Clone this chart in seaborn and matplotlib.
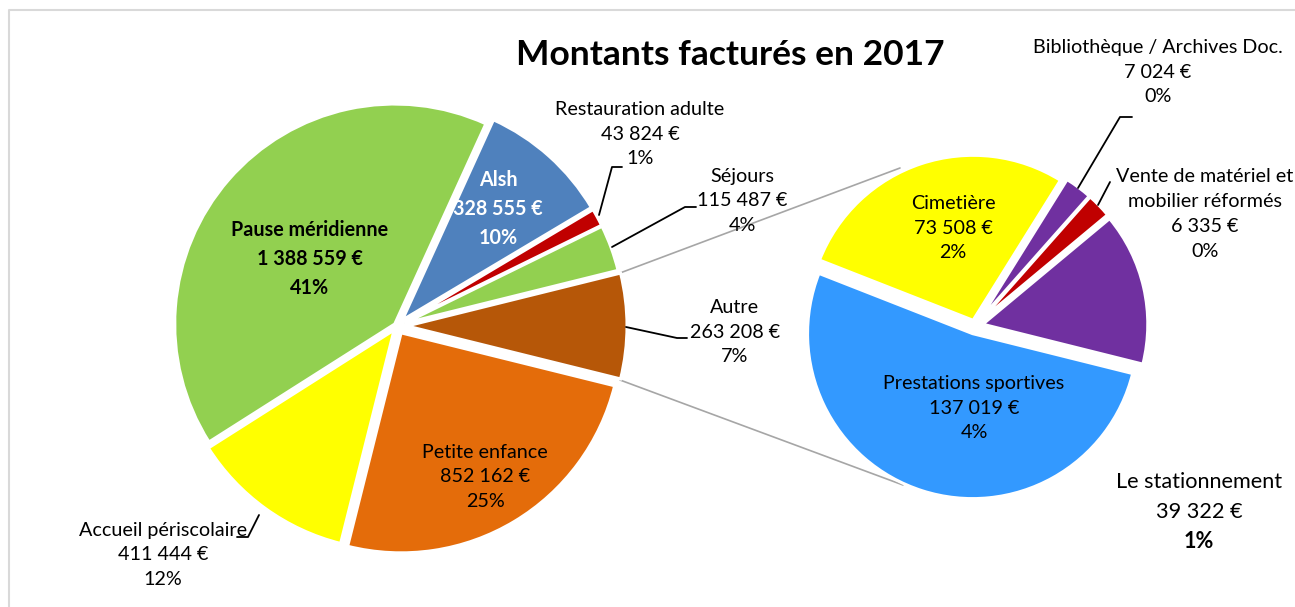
import matplotlib
matplotlib.use("Agg")
import matplotlib.pyplot as plt
import seaborn as sns

# ---------------- data ----------------
main_labels = ["Autre", "Petite enfance", "Accueil périscolaire", "Pause méridienne",
               "Alsh", "Restauration adulte", "Séjours"]
main_values = [263208, 852162, 411444, 1388559, 328555, 43824, 115487]
main_pcts = ["7%", "25%", "12%", "41%", "10%", "1%", "4%"]
main_colors = ["#B65708", "#E46C0A", "#FFFF00", "#92D050", "#4F81BD", "#C00000", "#92D050"]

sub_labels = ["Prestations sportives", "Cimetière", "Bibliothèque / Archives Doc.",
              "Vente de matériel et\nmobilier réformés", "Le stationnement"]
sub_values = [137019, 73508, 7024, 6335, 39322]
sub_pcts = ["4%", "2%", "0%", "0%", "1%"]
sub_colors = ["#3399FF", "#FFFF00", "#7030A0", "#C00000", "#7030A0"]

title = "Montants facturés en 2017"

# ---------------- style ----------------
sns.set_theme(style="white")
plt.rcParams['font.family'] = ['Lato', 'DejaVu Sans']
plt.rcParams['text.color'] = 'black'

W, H = 1295, 607
fig = plt.figure(figsize=(W / 100, H / 100), dpi=100)
ax = fig.add_axes([0, 0, 1, 1])


def fmt(v):
    return f"{v:,}".replace(",", " ") + " €"


def Y(y):
    return H - y


# main pie
main_center = (397, Y(326))
main_r = 220
main_explode = [10, 8, 5, 3, 8, 8, 8]
start_main = 360 * main_values[0] / sum(main_values) / 2
ax.pie(main_values, colors=main_colors, startangle=start_main, counterclock=False,
       center=main_center, radius=main_r, explode=main_explode,
       wedgeprops=dict(edgecolor="white", linewidth=2.2))

# secondary pie
sub_center = (975, Y(326))
sub_r = 165
sub_explode = [8, 6, 8, 8, 8]
ax.pie(sub_values, colors=sub_colors, startangle=-14, counterclock=False,
       center=sub_center, radius=sub_r, explode=sub_explode,
       wedgeprops=dict(edgecolor="white", linewidth=2.2))

ax.set_xlim(0, W)
ax.set_ylim(0, H)
ax.set_aspect("equal")
ax.axis("off")

# connector lines (grey)
ax.plot([620, 900], [Y(273), Y(168)], color="#A6A6A6", lw=1.2, zorder=0)
ax.plot([620, 903], [Y(380), Y(485)], color="#A6A6A6", lw=1.2, zorder=0)

# chart frame
ax.plot([9, 9, W], [0, Y(10), Y(10)], color="#D9D9D9", lw=1.5, clip_on=False)

fs = 14.2
ls = 1.57


def lab(x, y, name, val, pct, color="black", weight="normal", size=fs):
    ax.text(x, Y(y), f"{name}\n{val}\n{pct}", ha="center", va="center",
            color=color, fontsize=size, fontweight=weight, linespacing=ls, zorder=5)


mv = dict(zip(main_labels, main_values))
mp = dict(zip(main_labels, main_pcts))
sv = dict(zip(sub_labels, sub_values))
sp = dict(zip(sub_labels, sub_pcts))

lab(310, 259, "Pause méridienne", fmt(mv["Pause méridienne"]), mp["Pause méridienne"], weight="bold")
lab(498, 209, "Alsh", fmt(mv["Alsh"]), mp["Alsh"], color="white", weight="bold")
lab(640, 134, "Restauration adulte", fmt(mv["Restauration adulte"]), mp["Restauration adulte"])
lab(742, 201, "Séjours", fmt(mv["Séjours"]), mp["Séjours"])
lab(735, 332, "Autre", fmt(mv["Autre"]), mp["Autre"])
lab(485, 477, "Petite enfance", fmt(mv["Petite enfance"]), mp["Petite enfance"])
lab(163, 555, "Accueil périscolaire", fmt(mv["Accueil périscolaire"]), mp["Accueil périscolaire"])

lab(953, 228, "Cimetière", fmt(sv["Cimetière"]), sp["Cimetière"])
lab(974, 408, "Prestations sportives", fmt(sv["Prestations sportives"]), sp["Prestations sportives"])
lab(1158, 72, "Bibliothèque / Archives Doc.", fmt(sv["Bibliothèque / Archives Doc."]),
    sp["Bibliothèque / Archives Doc."])
lab(1205, 214, "Vente de matériel et\nmobilier réformés", fmt(sv["Vente de matériel et\nmobilier réformés"]),
    sp["Vente de matériel et\nmobilier réformés"])

# Le stationnement (bold percentage, slightly larger)
ax.text(1199, Y(497), f"Le stationnement\n{fmt(sv['Le stationnement'])}", ha="center", va="center",
        fontsize=15.6, linespacing=1.62)
ax.text(1199, Y(541), sp["Le stationnement"], ha="center", va="center", fontsize=15.6, fontweight="bold")

# leader lines
leaders = [
    [(622, 167), (612, 167), (599, 215)],
    [(696, 207), (685, 207), (612, 247)],
    [(626, 327), (677, 338), (687, 338)],
    [(237, 537), (248, 537), (259, 515)],
    [(1132, 117), (1120, 117), (1078, 188)],
    [(1110, 182), (1098, 205)],
]
for pts in leaders:
    xs = [p[0] for p in pts]
    ys = [Y(p[1]) for p in pts]
    ax.plot(xs, ys, color="black", lw=1.3, zorder=4)

ax.text(730, Y(55), title, ha="center", va="center", fontsize=25.5, fontweight="bold")

fig.savefig("out.png", dpi=100)
